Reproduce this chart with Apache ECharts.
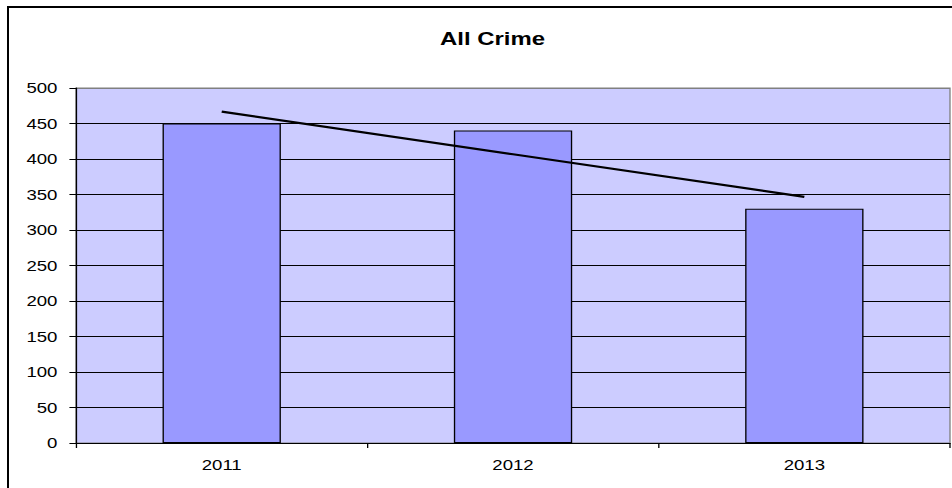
<!DOCTYPE html>
<html>
<head>
<meta charset="utf-8">
<script src="https://cdn.jsdelivr.net/npm/echarts@6/dist/echarts.min.js"></script>
<style>
  html, body { margin: 0; padding: 0; background: #ffffff; overflow: hidden; }
  #frame { position: absolute; left: 7px; top: 6px; width: 2000px; height: 2000px;
           border-left: 2px solid #000; border-top: 2px solid #000; box-sizing: border-box; }
  #chart { position: absolute; left: 0; top: 0; width: 716px; height: 488px;
           transform: scaleX(1.3296); transform-origin: 0 0; }
</style>
</head>
<body>
<div id="frame"></div>
<div id="chart"></div>
<script>
// ---- data ----
const categories = ['2011', '2012', '2013'];
const crimeCounts = [450, 440, 330];
const chartTitle = 'All Crime';
const yMin = 0, yMax = 500, yInterval = 50;

// linear trendline (least squares) from the series values
function linearTrend(vals) {
  const n = vals.length;
  let sx = 0, sy = 0, sxy = 0, sxx = 0;
  vals.forEach((v, i) => { const x = i + 1; sx += x; sy += v; sxy += x * v; sxx += x * x; });
  const b = (n * sxy - sx * sy) / (n * sxx - sx * sx);
  const a = (sy - b * sx) / n;
  return vals.map((v, i) => +(a + b * (i + 1)).toFixed(2));
}
const trendValues = linearTrend(crimeCounts);

const gridColors = [];
for (let v = yMin; v <= yMax; v += yInterval) gridColors.push(v === yMax ? '#808080' : '#000000');

const chart = echarts.init(document.getElementById('chart'), null, { renderer: 'svg' });
chart.setOption({
  animation: false,
  backgroundColor: 'transparent',
  textStyle: { fontFamily: 'Liberation Sans, Arial, sans-serif' },
  title: {
    text: chartTitle,
    left: 326,
    top: 25,
    textStyle: { fontFamily: 'Liberation Sans, Arial, sans-serif', fontSize: 18, fontWeight: 'bold', color: '#000' }
  },
  grid: {
    left: 57.2, right: 1.5, top: 88, bottom: 45,
    show: true, backgroundColor: '#CCCCFF', borderColor: '#808080', borderWidth: 1,
    containLabel: false
  },
  xAxis: {
    type: 'category',
    data: categories,
    boundaryGap: true,
    axisLine: { show: true, lineStyle: { color: '#000', width: 1 } },
    axisTick: { show: true, alignWithLabel: false, length: 5, lineStyle: { color: '#000' } },
    axisLabel: { color: '#000', fontSize: 14, margin: 15, fontFamily: 'Liberation Sans, Arial, sans-serif' },
    splitLine: { show: false }
  },
  yAxis: {
    type: 'value',
    min: yMin, max: yMax, interval: yInterval,
    axisLine: { show: true, lineStyle: { color: '#000', width: 1 } },
    axisTick: { show: true, length: 5, lineStyle: { color: '#000' } },
    axisLabel: { color: '#000', fontSize: 14, margin: 14, fontFamily: 'Liberation Sans, Arial, sans-serif' },
    splitLine: { show: true, lineStyle: { color: gridColors, width: 1 } }
  },
  series: [
    {
      type: 'bar',
      name: chartTitle,
      data: crimeCounts,
      barWidth: 89,
      itemStyle: { color: '#9999FF', borderColor: '#000', borderWidth: 1 },
      z: 2
    },
    {
      type: 'line',
      name: 'Linear trend',
      data: trendValues,
      symbol: 'none',
      lineStyle: { color: '#000', width: 2.2 },
      z: 3
    }
  ]
});
</script>
</body>
</html>
